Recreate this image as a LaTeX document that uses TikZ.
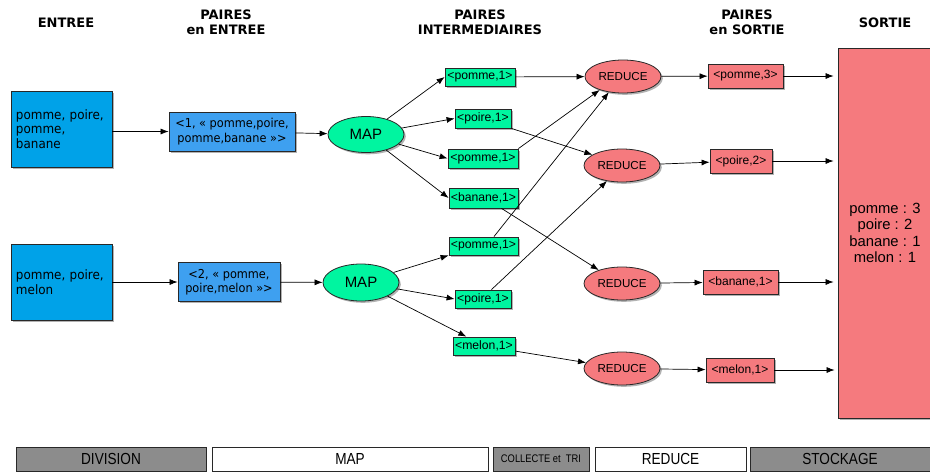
\documentclass[tikz,border=0pt]{standalone}
\usepackage{fontspec}
\setmainfont{Liberation Sans}
\newfontfamily\dvs[FakeStretch=0.92]{DejaVu Sans}
\newfontfamily\hdrfont{DejaVu Sans}
\newfontfamily\narrowfont[FakeStretch=0.85]{Liberation Sans}
\usetikzlibrary{arrows.meta,shadows,shapes.geometric,calc}
\definecolor{inblue}{RGB}{0,162,232}
\definecolor{peblue}{RGB}{62,160,240}
\definecolor{mgreen}{RGB}{0,245,160}
\definecolor{rpink}{RGB}{245,122,126}
\definecolor{bargray}{RGB}{140,140,140}
\definecolor{edgec}{RGB}{40,40,40}
\tikzset{
  base/.style={draw=edgec, line width=0.8pt, inner sep=0pt,
    drop shadow={shadow xshift=1.8pt, shadow yshift=-1.8pt, opacity=0.3, fill=black}},
  inbox/.style={base, rectangle, fill=inblue, minimum width=101pt, minimum height=76pt,
    text width=91pt, align=left, font=\dvs\fontsize{13}{14.5}\selectfont},
  pebox/.style={base, rectangle, fill=peblue, minimum height=39pt, align=center,
    font=\dvs\fontsize{12.3}{14.5}\selectfont},
  gbox/.style={base, rectangle, fill=mgreen, minimum height=19pt, font=\fontsize{12.2}{14}\selectfont},
  mapell/.style={base, ellipse, fill=mgreen, minimum width=76pt, minimum height=36pt,
    font=\fontsize{15}{17}\selectfont},
  redell/.style={base, ellipse, fill=rpink, minimum width=76pt, minimum height=33pt,
    font=\fontsize{11.6}{13}\selectfont},
  obox/.style={base, rectangle, fill=rpink, minimum height=24pt, font=\fontsize{12}{14}\selectfont},
  hdr/.style={font=\hdrfont\bfseries\fontsize{13}{15}\selectfont, align=center},
  barbox/.style={draw=edgec, line width=0.8pt, rectangle, minimum height=24pt, inner sep=0pt,
    font=\narrowfont\fontsize{16}{18}\selectfont},
  arr/.style={-{Latex[length=8pt,width=6pt]}, line width=0.7pt, draw=black}
}
\begin{document}
\begin{tikzpicture}[x=1pt,y=-1pt]
\useasboundingbox (0,0) rectangle (930,472);
% headers
\node[hdr] (h1) at (66,22.5) {ENTREE};
\node[hdr] (h2) at (226,22.5) {PAIRES\\en ENTREE};
\node[hdr] (h3) at (480,22.5) {PAIRES\\INTERMEDIAIRES};
\node[hdr] (h4) at (747,22.5) {PAIRES\\en SORTIE};
\node[hdr] (h5) at (885,22.5) {SORTIE};
% inputs
\node[inbox] (in1) at (61.5,129) {pomme, poire,\\pomme,\\banane};
\node[inbox] (in2) at (61.5,282) {pomme, poire,\\melon};
\node[pebox, minimum width=126pt] (pe1) at (232,131.5) {<1, « pomme,poire,\\pomme,banane »>};
\node[pebox, minimum width=102pt] (pe2) at (229,282) {<2, « pomme,\\poire,melon »>};
% maps
\node[mapell] (map1) at (366,134.5) {MAP};
\node[mapell, minimum height=37pt] (map2) at (361,282.5) {MAP};
% intermediate pairs
\node[gbox, minimum width=70pt, minimum height=18pt] (g1) at (480,77) {<pomme,1>};
\node[gbox, minimum width=56pt] (g2) at (483,118.5) {<poire,1>};
\node[gbox, minimum width=70pt] (g3) at (483,158.5) {<pomme,1>};
\node[gbox, minimum width=69pt, minimum height=20pt] (g4) at (483.5,198) {<banane,1>};
\node[gbox, minimum width=69pt, minimum height=18pt] (g5) at (483.5,246) {<pomme,1>};
\node[gbox, minimum width=56pt, minimum height=18pt] (g6) at (483,299) {<poire,1>};
\node[gbox, minimum width=62pt, minimum height=18pt] (g7) at (484,346) {<melon,1>};
% reduces
\node[redell] (R1) at (623,76.5) {REDUCE};
\node[redell] (R2) at (622,165.5) {REDUCE};
\node[redell] (R3) at (622,283.5) {REDUCE};
\node[redell] (R4) at (622,368.5) {REDUCE};
% output pairs
\node[obox, minimum width=75pt] (o1) at (745.5,76) {<pomme,3>};
\node[obox, minimum width=62pt] (o2) at (741,161) {<poire,2>};
\node[obox, minimum width=75pt] (o3) at (740.5,282) {<banane,1>};
\node[obox, minimum width=68pt] (o4) at (740,370) {<melon,1>};
% sortie
\node[base, rectangle, fill=rpink, minimum width=94pt, minimum height=370pt, align=center,
  font=\fontsize{14.8}{16.5}\selectfont] (sortie) at (885,233)
  {pomme : 3\\poire : 2\\banane : 1\\melon : 1};
% connectors
\draw[arr] (in1.east |- pe1.west) -- (pe1.west);
\draw[arr] (in2) -- (pe2);
\draw[arr] (pe1) -- (map1);
\draw[arr] (pe2) -- (map2);
\draw[arr] (map1) -- (g1.west);
\draw[arr] (map1) -- (g2.west);
\draw[arr] (map1) -- (g3.west);
\draw[arr] (map1) -- (g4.west);
\draw[arr] (map2) -- (g5.south west);
\draw[arr] (map2) -- (g6.west);
\draw[arr] (map2) -- (g7.152);
\draw[arr] (g1) -- (R1);
\draw[arr] (g2.south east) -- (R2.160);
\draw[arr] (g3.north east) -- (R1.210);
\draw[arr] (g4.-30) -- (R3.150);
\draw[arr] (g5.42) -- (R1.228);
\draw[arr] (g6.48) -- (R2.226);
\draw[arr] (g7) -- (R4);
\draw[arr] (R1) -- (o1);
\draw[arr] (R2) -- (o2);
\draw[arr] (R3) -- (o3);
\draw[arr] (R4) -- (o4);
\draw[arr, shorten >=4pt] (o1) -- (o1 -| sortie.west);
\draw[arr, shorten >=4pt] (o2) -- (o2 -| sortie.west);
\draw[arr, shorten >=4pt] (o3) -- (o3 -| sortie.west);
\draw[arr, shorten >=3pt] (o4) -- (o4 -| sortie.west);
% bottom bar
\node[barbox, fill=bargray, minimum width=190pt] (bdiv) at (111,459) {DIVISION};
\node[barbox, fill=white, minimum width=276pt] (bmap) at (350,459) {MAP};
\node[barbox, fill=bargray, minimum width=96pt, font=\narrowfont\fontsize{11}{13}\selectfont] (bcol) at (541,459) {COLLECTE et\ \ TRI};
\node[barbox, fill=white, minimum width=151pt] (bred) at (670.5,459) {REDUCE};
\node[barbox, fill=bargray, minimum width=180pt] (bsto) at (840,459) {STOCKAGE};
\end{tikzpicture}
\end{document}
